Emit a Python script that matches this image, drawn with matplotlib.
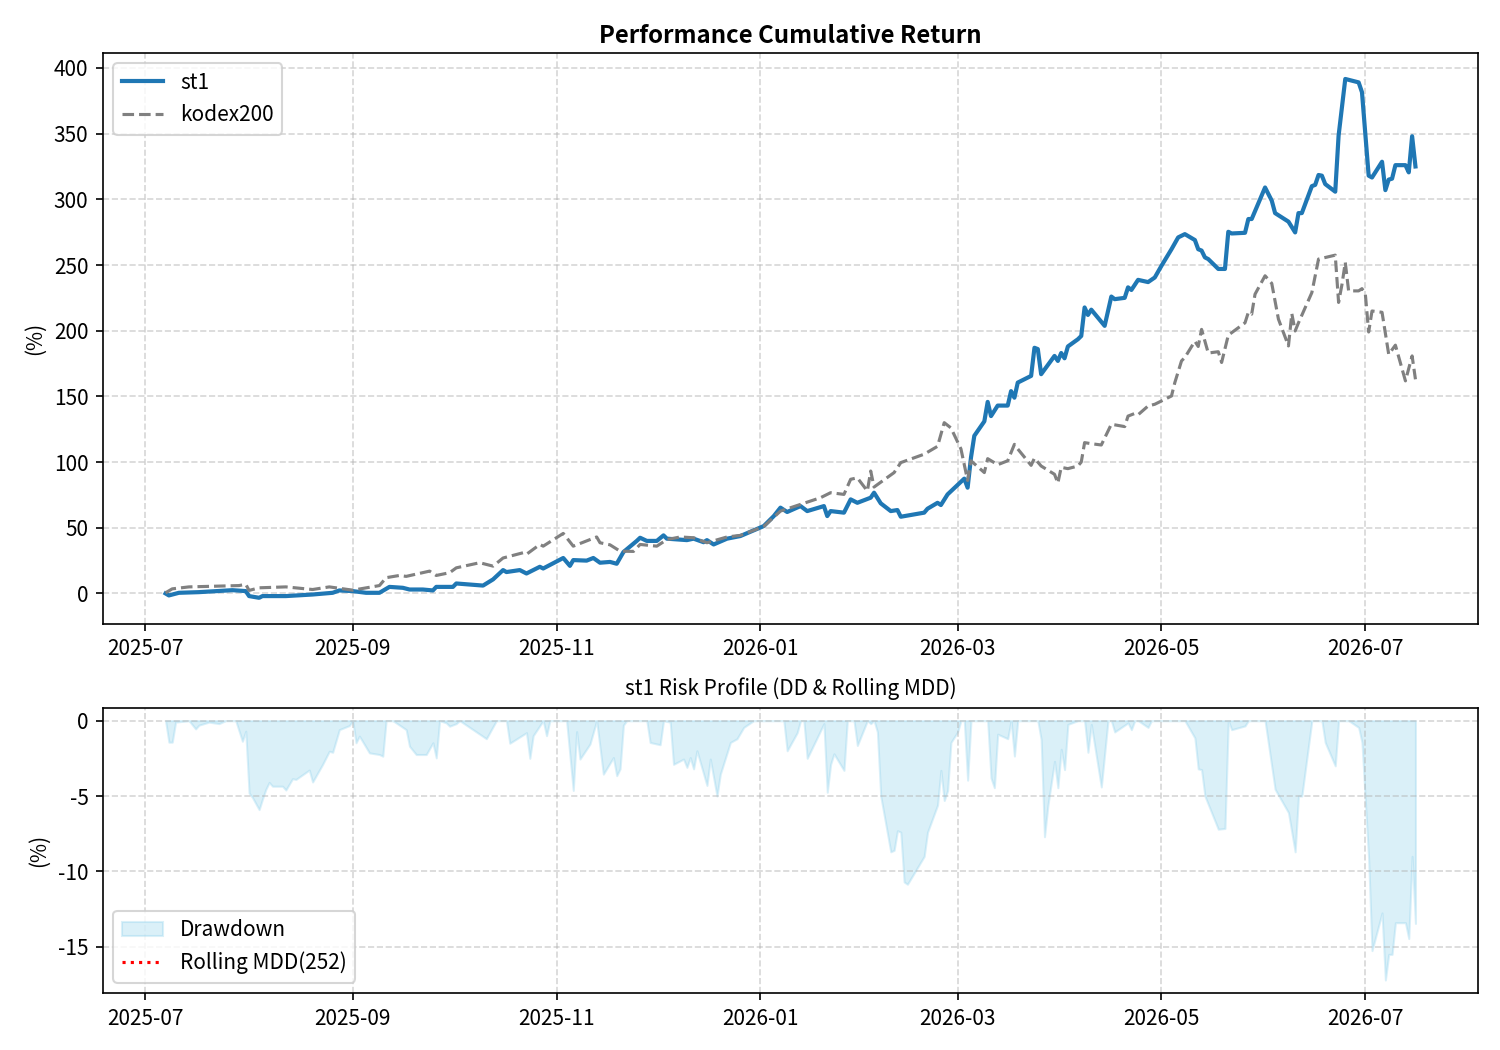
import matplotlib
matplotlib.use("Agg")
import matplotlib.pyplot as plt
import matplotlib.dates as mdates
import pandas as pd

plt.rcParams['font.family'] = ['Noto Sans CJK KR', 'DejaVu Sans']
plt.rcParams['axes.unicode_minus'] = False

# cumulative return (%) of the strategy
st1_dates = ["2025-07-07", "2025-07-08", "2025-07-11", "2025-07-17", "2025-07-27", "2025-07-31",
             "2025-08-01", "2025-08-04", "2025-08-05", "2025-08-12", "2025-08-20", "2025-08-26",
             "2025-08-28", "2025-09-01", "2025-09-05", "2025-09-09", "2025-09-12", "2025-09-16",
             "2025-09-18", "2025-09-22", "2025-09-25", "2025-09-26", "2025-10-01", "2025-10-02",
             "2025-10-10", "2025-10-13", "2025-10-16", "2025-10-17", "2025-10-21", "2025-10-23",
             "2025-10-27", "2025-10-28", "2025-11-03", "2025-11-05", "2025-11-06", "2025-11-10",
             "2025-11-12", "2025-11-14", "2025-11-17", "2025-11-19", "2025-11-21", "2025-11-25",
             "2025-11-26", "2025-11-28", "2025-12-01", "2025-12-03", "2025-12-04", "2025-12-10",
             "2025-12-12", "2025-12-15", "2025-12-16", "2025-12-18", "2025-12-22", "2025-12-26",
             "2026-01-02", "2026-01-05", "2026-01-07", "2026-01-09", "2026-01-13", "2026-01-15",
             "2026-01-20", "2026-01-21", "2026-01-22", "2026-01-26", "2026-01-28", "2026-01-30",
             "2026-02-03", "2026-02-04", "2026-02-06", "2026-02-09", "2026-02-11", "2026-02-12",
             "2026-02-19", "2026-02-20", "2026-02-23", "2026-02-24", "2026-02-26", "2026-03-03",
             "2026-03-04", "2026-03-05", "2026-03-06", "2026-03-09", "2026-03-10", "2026-03-11",
             "2026-03-13", "2026-03-16", "2026-03-17", "2026-03-18", "2026-03-19", "2026-03-23",
             "2026-03-24", "2026-03-25", "2026-03-26", "2026-03-30", "2026-03-31", "2026-04-01",
             "2026-04-02", "2026-04-03", "2026-04-06", "2026-04-07", "2026-04-08", "2026-04-09",
             "2026-04-10", "2026-04-14", "2026-04-16", "2026-04-17", "2026-04-20", "2026-04-21",
             "2026-04-22", "2026-04-24", "2026-04-27", "2026-04-29", "2026-05-01", "2026-05-04",
             "2026-05-06", "2026-05-08", "2026-05-11", "2026-05-12", "2026-05-13", "2026-05-14",
             "2026-05-15", "2026-05-18", "2026-05-20", "2026-05-21", "2026-05-22", "2026-05-26",
             "2026-05-27", "2026-05-28", "2026-06-01", "2026-06-03", "2026-06-04", "2026-06-08",
             "2026-06-10", "2026-06-11", "2026-06-12", "2026-06-15", "2026-06-16", "2026-06-17",
             "2026-06-18", "2026-06-19", "2026-06-22", "2026-06-23", "2026-06-25", "2026-06-29",
             "2026-06-30", "2026-07-02", "2026-07-03", "2026-07-06", "2026-07-07", "2026-07-08",
             "2026-07-09", "2026-07-10", "2026-07-13", "2026-07-14", "2026-07-15", "2026-07-16"]
st1_vals = [0, -1.5, 0.5, 1, 2.5, 1.8,
            -2, -3.3, -2, -2, -0.8, 0.5,
            2.3, 1.8, 0.5, 0.5, 5, 4.3,
            3, 3, 2.3, 5, 5, 7.6,
            6, 10.7, 17.8, 16.3, 17.8, 15.2,
            20.3, 19, 27, 21, 25.4, 25,
            27, 23.4, 24, 22.6, 31.5, 40,
            42.4, 40, 40, 44.2, 41.7, 40.6,
            41.7, 39, 40.6, 37.3, 41.7, 43.7,
            51.3, 58.9, 65.3, 62, 66.5, 62.7,
            66.5, 58.9, 62.7, 61.5, 71.6, 69,
            72.9, 76.7, 68.6, 62.7, 63.5, 58.4,
            61.5, 64.5, 69, 67.3, 75.4, 87.4,
            80.5, 103.4, 120, 131, 145.8, 135,
            143, 143, 154, 149, 160.5, 165.6,
            187, 186, 166.9, 180.8, 177, 183,
            179, 188, 193.5, 196, 217.7, 212,
            216, 203.7, 226, 224, 225, 233,
            231, 238.7, 237, 240.5, 249.4, 262,
            271, 273.5, 269, 262, 261, 255.8,
            254.5, 247, 247, 275.3, 274, 274.5,
            285, 285, 309, 299, 289.5, 283,
            274.8, 289.5, 289.5, 310, 311, 318.5,
            318, 311.6, 305.8, 348.4, 391.6, 389,
            381.5, 318, 316.6, 328.6, 307, 315,
            315.7, 326, 326, 320.5, 348, 325]

# cumulative return (%) of the benchmark
kodex_dates = ["2025-07-07", "2025-07-09", "2025-07-14", "2025-07-29", "2025-07-31", "2025-08-01",
               "2025-08-04", "2025-08-12", "2025-08-20", "2025-08-25", "2025-09-01", "2025-09-09",
               "2025-09-11", "2025-09-15", "2025-09-17", "2025-09-24", "2025-09-26", "2025-09-30",
               "2025-10-02", "2025-10-09", "2025-10-13", "2025-10-16", "2025-10-22", "2025-10-23",
               "2025-10-27", "2025-10-28", "2025-11-03", "2025-11-06", "2025-11-13", "2025-11-14",
               "2025-11-17", "2025-11-20", "2025-11-24", "2025-11-26", "2025-12-01", "2025-12-04",
               "2025-12-08", "2025-12-12", "2025-12-16", "2025-12-22", "2025-12-26", "2026-01-02",
               "2026-01-07", "2026-01-13", "2026-01-19", "2026-01-22", "2026-01-26", "2026-01-28",
               "2026-01-30", "2026-02-02", "2026-02-03", "2026-02-04", "2026-02-10", "2026-02-12",
               "2026-02-19", "2026-02-23", "2026-02-25", "2026-02-27", "2026-03-02", "2026-03-04",
               "2026-03-05", "2026-03-09", "2026-03-10", "2026-03-13", "2026-03-16", "2026-03-18",
               "2026-03-19", "2026-03-23", "2026-03-24", "2026-03-26", "2026-03-30", "2026-03-31",
               "2026-04-01", "2026-04-03", "2026-04-06", "2026-04-07", "2026-04-08", "2026-04-10",
               "2026-04-13", "2026-04-16", "2026-04-20", "2026-04-21", "2026-04-23", "2026-04-24",
               "2026-04-27", "2026-04-29", "2026-05-04", "2026-05-05", "2026-05-07", "2026-05-08",
               "2026-05-11", "2026-05-12", "2026-05-13", "2026-05-15", "2026-05-18", "2026-05-19",
               "2026-05-21", "2026-05-26", "2026-05-27", "2026-05-28", "2026-05-29", "2026-06-01",
               "2026-06-03", "2026-06-05", "2026-06-08", "2026-06-09", "2026-06-10", "2026-06-11",
               "2026-06-15", "2026-06-17", "2026-06-22", "2026-06-23", "2026-06-24", "2026-06-25",
               "2026-06-26", "2026-06-29", "2026-06-30", "2026-07-01", "2026-07-02", "2026-07-03",
               "2026-07-06", "2026-07-08", "2026-07-10", "2026-07-13", "2026-07-15", "2026-07-16"]
kodex_vals = [0.5, 3.5, 5, 6, 7, 2.3,
              4.3, 5, 3, 5, 2.5, 6,
              12, 13.7, 13, 17, 13.7, 15.8,
              19.5, 23.4, 20.8, 27, 31, 29.8,
              37.3, 36, 45.7, 36, 43, 38.6,
              37, 32.2, 32, 37.3, 36, 41,
              43, 42.4, 38.6, 43, 44.2, 51,
              62.7, 67.8, 72.9, 76.7, 75.4, 86.9,
              88, 78, 93.2, 81, 92, 99.6,
              106, 112, 130, 126, 110, 86,
              101, 92, 102.6, 98, 101, 113.5,
              110, 97.5, 103, 97, 90.7, 84,
              96, 95, 97, 100, 114.8, 114,
              113, 128.8, 127, 135, 137, 136,
              142.7, 144, 150.3, 160.5, 177, 179.6,
              192, 188, 201, 183, 184, 175.8,
              196.6, 206, 214, 212.6, 227.8, 241.8,
              236, 208.8, 188.4, 213, 199.8, 206,
              229, 254.5, 257.5, 221.5, 235, 252,
              230.3, 230.3, 232, 228, 199, 215,
              214, 182, 189, 161.8, 180.8, 163]

# drawdown (%) of st1
dd_dates = ["2025-07-07", "2025-07-08", "2025-07-09", "2025-07-10", "2025-07-14", "2025-07-16",
            "2025-07-17", "2025-07-20", "2025-07-23", "2025-07-25", "2025-07-28", "2025-07-30",
            "2025-07-31", "2025-08-01", "2025-08-02", "2025-08-04", "2025-08-05", "2025-08-06",
            "2025-08-07", "2025-08-08", "2025-08-11", "2025-08-12", "2025-08-14", "2025-08-15",
            "2025-08-19", "2025-08-20", "2025-08-23", "2025-08-25", "2025-08-26", "2025-08-28",
            "2025-08-31", "2025-09-01", "2025-09-02", "2025-09-03", "2025-09-06", "2025-09-09",
            "2025-09-10", "2025-09-11", "2025-09-13", "2025-09-17", "2025-09-18", "2025-09-20",
            "2025-09-23", "2025-09-25", "2025-09-26", "2025-09-27", "2025-09-29", "2025-09-30",
            "2025-10-02", "2025-10-03", "2025-10-11", "2025-10-14", "2025-10-17", "2025-10-18",
            "2025-10-23", "2025-10-24", "2025-10-25", "2025-10-28", "2025-10-29", "2025-10-30",
            "2025-11-04", "2025-11-06", "2025-11-07", "2025-11-08", "2025-11-11", "2025-11-13",
            "2025-11-15", "2025-11-18", "2025-11-19", "2025-11-20", "2025-11-21", "2025-11-22",
            "2025-11-28", "2025-11-29", "2025-12-02", "2025-12-03", "2025-12-05", "2025-12-06",
            "2025-12-09", "2025-12-10", "2025-12-11", "2025-12-12", "2025-12-13", "2025-12-16",
            "2025-12-17", "2025-12-19", "2025-12-20", "2025-12-23", "2025-12-25", "2025-12-27",
            "2025-12-30", "2026-01-08", "2026-01-09", "2026-01-12", "2026-01-13", "2026-01-14",
            "2026-01-15", "2026-01-20", "2026-01-21", "2026-01-22", "2026-01-23", "2026-01-26",
            "2026-01-27", "2026-01-29", "2026-01-30", "2026-02-02", "2026-02-03", "2026-02-04",
            "2026-02-05", "2026-02-06", "2026-02-09", "2026-02-10", "2026-02-11", "2026-02-12",
            "2026-02-13", "2026-02-14", "2026-02-19", "2026-02-20", "2026-02-23", "2026-02-24",
            "2026-02-25", "2026-02-26", "2026-02-27", "2026-03-01", "2026-03-02", "2026-03-03",
            "2026-03-04", "2026-03-05", "2026-03-10", "2026-03-11", "2026-03-12", "2026-03-13",
            "2026-03-16", "2026-03-17", "2026-03-18", "2026-03-19", "2026-03-25", "2026-03-26",
            "2026-03-27", "2026-03-28", "2026-03-30", "2026-03-31", "2026-04-01", "2026-04-02",
            "2026-04-03", "2026-04-06", "2026-04-08", "2026-04-09", "2026-04-10", "2026-04-13",
            "2026-04-15", "2026-04-16", "2026-04-17", "2026-04-21", "2026-04-22", "2026-04-23",
            "2026-04-24", "2026-04-27", "2026-04-28", "2026-05-08", "2026-05-11", "2026-05-12",
            "2026-05-13", "2026-05-14", "2026-05-18", "2026-05-20", "2026-05-21", "2026-05-22",
            "2026-05-26", "2026-05-27", "2026-06-01", "2026-06-04", "2026-06-08", "2026-06-10",
            "2026-06-11", "2026-06-12", "2026-06-15", "2026-06-18", "2026-06-19", "2026-06-22",
            "2026-06-23", "2026-06-26", "2026-06-29", "2026-06-30", "2026-07-02", "2026-07-03",
            "2026-07-06", "2026-07-07", "2026-07-08", "2026-07-09", "2026-07-10", "2026-07-13",
            "2026-07-14", "2026-07-15", "2026-07-16"]
dd_vals = [0, -1.43, -1.43, -0.1, 0, -0.55,
           -0.3, -0.1, -0.2, 0, 0, -1.37,
           -0.7, -4.8, -5.1, -5.9, -5.2, -4.56,
           -4.1, -4.35, -4.35, -4.6, -3.85, -3.9,
           -3.28, -4.07, -2.9, -2.03, -2.1, -0.6,
           -0.33, 0, -1.47, -1.03, -2.14, -2.25,
           -2.36, 0, 0, -0.6, -1.7, -2.25,
           -2.25, -1.47, -2.47, 0, -0.15, -0.37,
           -0.2, 0, -1.2, 0, 0, -1.5,
           -0.8, -2.5, -1.0, 0, -1.0, 0,
           0, -4.63, -0.73, -2.55, -1.55, 0,
           -3.55, -2.45, -3.65, -3.2, -0.3, 0,
           0, -1.45, -1.6, 0, -0.1, -2.9,
           -2.55, -3.1, -2.45, -3.2, -2.0, -4.3,
           -2.55, -5.0, -3.55, -1.45, -1.2, -0.45,
           0, 0, -2.0, -0.8, 0, 0,
           -2.5, -0.2, -4.75, -2.9, -2.2, -3.3,
           0, 0, -1.65, 0, -0.2, 0,
           -0.75, -5.0, -8.7, -8.6, -7.3, -7.4,
           -10.7, -10.85, -9.0, -7.4, -5.6, -3.3,
           -5.3, -4.65, -1.45, -0.75, 0, 0,
           -3.95, 0, 0, -3.8, -4.45, -0.9,
           -1.2, 0, -2.35, 0, 0, -1.25,
           -7.7, -5.65, -2.7, -4.45, -1.9, -3.25,
           -0.25, 0, 0, -2.1, -0.25, -4.4,
           0, 0, -0.75, -0.15, -0.6, 0,
           0, -0.45, 0, 0, -1.15, -3.2,
           -3.25, -5.0, -7.2, -7.15, 0, -0.6,
           -0.35, 0, 0, -4.55, -6.1, -8.7,
           -5.0, -5.0, 0, 0, -1.45, -3.0,
           0, 0, -0.45, -1.45, -9.2, -15.25,
           -12.75, -17.2, -15.5, -15.5, -13.4, -13.4,
           -14.45, -9.0, -13.45]

st1_x = pd.to_datetime(st1_dates)
kodex_x = pd.to_datetime(kodex_dates)
dd_x = pd.to_datetime(dd_dates)

fig = plt.figure(figsize=(10, 7), dpi=150)
gs = fig.add_gridspec(2, 1, height_ratios=[2, 1])
ax1 = fig.add_subplot(gs[0])
ax2 = fig.add_subplot(gs[1])
fig.subplots_adjust(left=0.0687, right=0.9853, top=0.9495, bottom=0.0543, hspace=0.196)

ax1.plot(st1_x, st1_vals, color='#1f77b4', linewidth=2, label='st1')
ax1.plot(kodex_x, kodex_vals, color='gray', linestyle='--', linewidth=1.5, label='kodex200')
ax1.set_title('Performance Cumulative Return', fontsize=11.5, fontweight='bold', pad=5)
ax1.set_ylabel('(%)')
ax1.grid(True, linestyle='--', alpha=0.5)
ax1.legend(loc='upper left')

ax2.fill_between(dd_x, dd_vals, 0, color='skyblue', alpha=0.3, label='Drawdown')
ax2.plot([], [], color='red', linestyle=':', label='Rolling MDD(252)')
ax2.set_title('st1 Risk Profile (DD & Rolling MDD)', fontsize=10)
ax2.set_ylabel('(%)')
ax2.grid(True, linestyle='--', alpha=0.5)
ax2.legend(loc='lower left')

for ax in (ax1, ax2):
    ax.xaxis.set_major_locator(mdates.MonthLocator(bymonth=[1, 3, 5, 7, 9, 11]))
    ax.xaxis.set_major_formatter(mdates.DateFormatter('%Y-%m'))

ax2.set_xlim(ax1.get_xlim())
ax2.set_yticks([0, -5, -10, -15])

fig.savefig('out.png', dpi=150)
